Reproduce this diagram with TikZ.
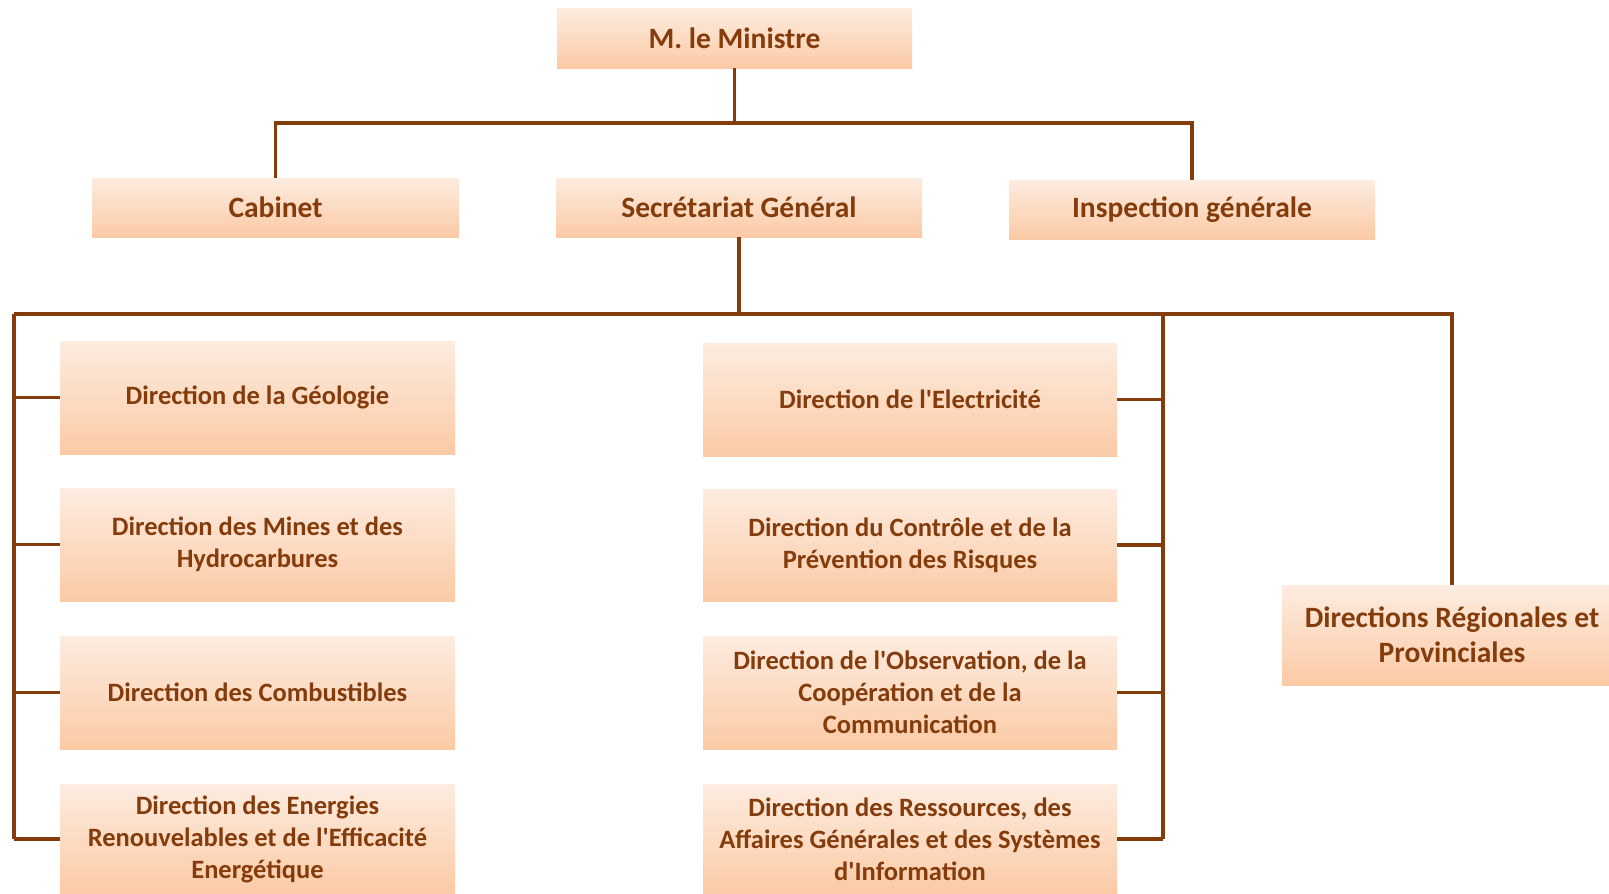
\documentclass[tikz,border=0pt]{standalone}
\usepackage{fontspec}
\setmainfont{Carlito}
\usepackage{tikz}
\usetikzlibrary{calc}
\definecolor{brownline}{RGB}{132,60,12}
\definecolor{peachtop}{RGB}{253,236,224}
\definecolor{peachbot}{RGB}{251,202,165}
\newcommand{\apos}{\textquotesingle}

\begin{document}
\begin{tikzpicture}[x=1pt, y=-1pt,
    unit/.style={top color=peachtop, bottom color=peachbot, draw=none,
        text=brownline, font=\fontsize{26.5}{32}\selectfont\bfseries,
        align=center, inner sep=0pt},
    head/.style={unit, font=\fontsize{29.5}{35}\selectfont\bfseries},
    link/.style={draw=brownline, line width=3.4pt}]
    \useasboundingbox (0,0) rectangle (1609,894);

    % top level
    \node[head, minimum width=355, minimum height=60] (mini) at (734.5,38) {M. le Ministre};
    \node[head, minimum width=367, minimum height=59] (cab) at (275.5,207.5) {Cabinet};
    \node[head, minimum width=366, minimum height=59] (sg) at (739,207.5) {Secrétariat Général};
    \node[head, minimum width=366, minimum height=59] (insp) at (1192,209.5) {Inspection générale};

    % left column
    \node[unit, minimum width=395, minimum height=113] (geo) at (257.5,397.5) {Direction de la Géologie};
    \node[unit, minimum width=395, minimum height=113] (mines) at (257.5,544.5) {Direction des Mines et des\\Hydrocarbures};
    \node[unit, minimum width=395, minimum height=113] (comb) at (257.5,692.5) {Direction des Combustibles};
    \node[unit, minimum width=395, minimum height=110] (ener) at (257.5,839) {Direction des Energies\\Renouvelables et de l\apos Efficacité\\Energétique};

    % right column
    \node[unit, minimum width=414, minimum height=113] (elec) at (910,399.5) {Direction de l\apos Electricité};
    \node[unit, minimum width=414, minimum height=112] (ctrl) at (910,545) {Direction du Contrôle et de la\\Prévention des Risques};
    \node[unit, minimum width=414, minimum height=113] (obs) at (910,692.5) {Direction de l\apos Observation, de la\\Coopération et de la\\Communication};
    \node[unit, minimum width=414, minimum height=110] (res) at (910,839) {Direction des Ressources, des\\Affaires Générales et des Systèmes\\d\apos Information};

    % regional
    \node[head, minimum width=340, minimum height=100] (reg) at (1452,635) {Directions Régionales et\\Provinciales};

    % links
    \coordinate (b1) at (734,123);
    \coordinate (bl) at (14,314);
    \coordinate (br) at (1163,314);
    \draw[link] (mini) -- (mini |- b1);
    \draw[link] (cab.north) -- (cab.north |- b1) -- (insp.north |- b1) -- (insp.north);
    \draw[link] (sg) -- (sg |- bl);
    \draw[link] (bl) -- (bl -| reg.north) -- (reg.north);
    \draw[link] (bl) -- (bl |- ener.west);
    \draw[link] (br) -- (br |- res.east);
    \foreach \n in {geo,mines,comb,ener}
        \draw[link] (\n.west) -- (\n.west -| bl);
    \foreach \n in {elec,ctrl,obs,res}
        \draw[link] (\n.east) -- (\n.east -| br);
\end{tikzpicture}
\end{document}
